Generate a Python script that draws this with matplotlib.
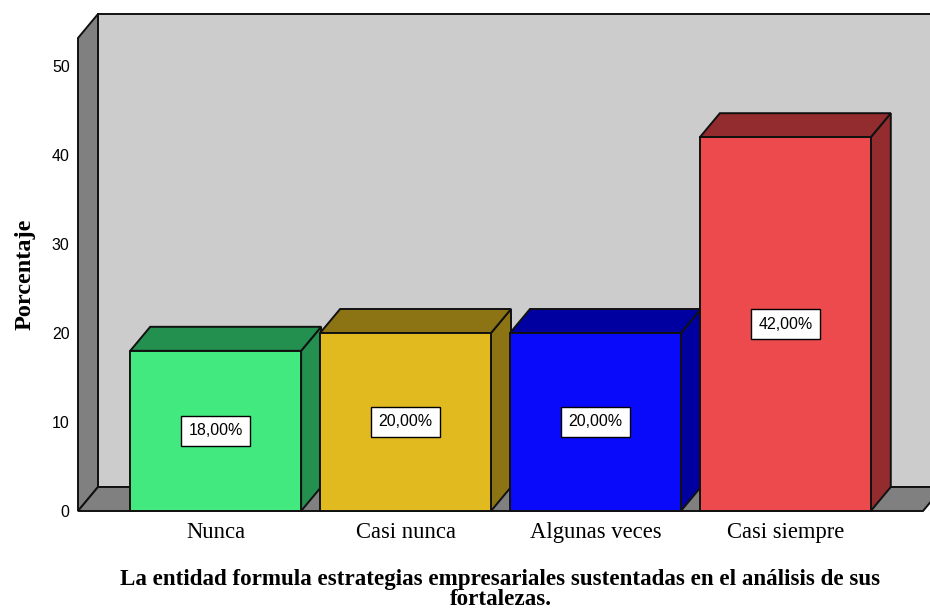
import matplotlib
matplotlib.use("Agg")
import matplotlib.pyplot as plt
from matplotlib.patches import Polygon, Rectangle

# Data
categories = ["Nunca", "Casi nunca", "Algunas veces", "Casi siempre"]
percentages = [18.0, 20.0, 20.0, 42.0]
yticks = [0, 10, 20, 30, 40, 50]

front_colors = ["#41E97E", "#E0BA1F", "#0A0AFA", "#EC4A4C"]
dark_colors = ["#24904F", "#8C7414", "#0000A0", "#922C2E"]

W, H = 930, 610
fig = plt.figure(figsize=(W / 100, H / 100), dpi=100)

# front plane of the 3-D box, in pixels
left_px, right_px, base_px, top_px = 78, 923, 511, 38
ax = fig.add_axes([left_px / W, (H - base_px) / H,
                   (right_px - left_px) / W, (base_px - top_px) / H])

ymax = (base_px - top_px) / 8.9
ax.set_xlim(-0.725, 3.725)
ax.set_ylim(0, ymax)
for s in ax.spines.values():
    s.set_visible(False)
ax.patch.set_visible(False)

# depth offset of the box (pixels -> data units)
dx_px, dy_px = 20, 24
x_per_px = (3.725 + 0.725) / (right_px - left_px)
y_per_px = ymax / (base_px - top_px)
ddx, ddy = dx_px * x_per_px, dy_px * y_per_px

x0, x1 = -0.725, 3.725
lw = 1.4
ec = "#111111"

# back wall
ax.add_patch(Polygon([(x0 + ddx, ddy), (x1 + ddx, ddy), (x1 + ddx, ymax + ddy),
                      (x0 + ddx, ymax + ddy)], closed=True, facecolor="#CCCCCC",
                     edgecolor=ec, lw=lw, clip_on=False, zorder=1))
# left wall
ax.add_patch(Polygon([(x0, 0), (x0 + ddx, ddy), (x0 + ddx, ymax + ddy), (x0, ymax)],
                     closed=True, facecolor="#808080", edgecolor=ec, lw=lw,
                     clip_on=False, zorder=2))
# floor
ax.add_patch(Polygon([(x0, 0), (x1, 0), (x1 + ddx, ddy), (x0 + ddx, ddy)],
                     closed=True, facecolor="#808080", edgecolor=ec, lw=lw,
                     clip_on=False, zorder=2))

bw = 0.9
for i, (v, fc, dc) in enumerate(zip(percentages, front_colors, dark_colors)):
    l, r = i - bw / 2, i + bw / 2
    z = 3 + i
    # right side
    ax.add_patch(Polygon([(r, 0), (r + ddx, ddy), (r + ddx, v + ddy), (r, v)],
                         closed=True, facecolor=dc, edgecolor=ec, lw=lw,
                         clip_on=False, zorder=z))
    # top
    ax.add_patch(Polygon([(l, v), (r, v), (r + ddx, v + ddy), (l + ddx, v + ddy)],
                         closed=True, facecolor=dc, edgecolor=ec, lw=lw,
                         clip_on=False, zorder=z))
    # front
    ax.add_patch(Rectangle((l, 0), bw, v, facecolor=fc, edgecolor=ec, lw=lw,
                           clip_on=False, zorder=z + 0.1))
    ax.text(i, v / 2, f"{v:.2f}%".replace(".", ","), ha="center", va="center",
            fontsize=11.5, family="Liberation Sans", zorder=20,
            bbox=dict(boxstyle="square,pad=0.45", facecolor="white",
                      edgecolor="black", lw=1.0))

ax.set_xticks(range(len(categories)))
ax.set_xticklabels(categories, family="Liberation Serif", fontsize=16.3)
ax.set_yticks(yticks)
ax.set_yticklabels([str(t) for t in yticks], family="Liberation Sans", fontsize=11.5)
ax.tick_params(axis="x", length=0, pad=8)
ax.tick_params(axis="y", length=0, pad=6)

ax.set_ylabel("Porcentaje", family="Liberation Serif", fontweight="bold",
              fontsize=17.5, labelpad=12)
ax.set_xlabel("La entidad formula estrategias empresariales sustentadas en el análisis de sus\nfortalezas.",
              family="Liberation Serif", fontweight="bold", fontsize=16.6,
              labelpad=19, linespacing=0.9)

fig.savefig("out.png", dpi=100)
